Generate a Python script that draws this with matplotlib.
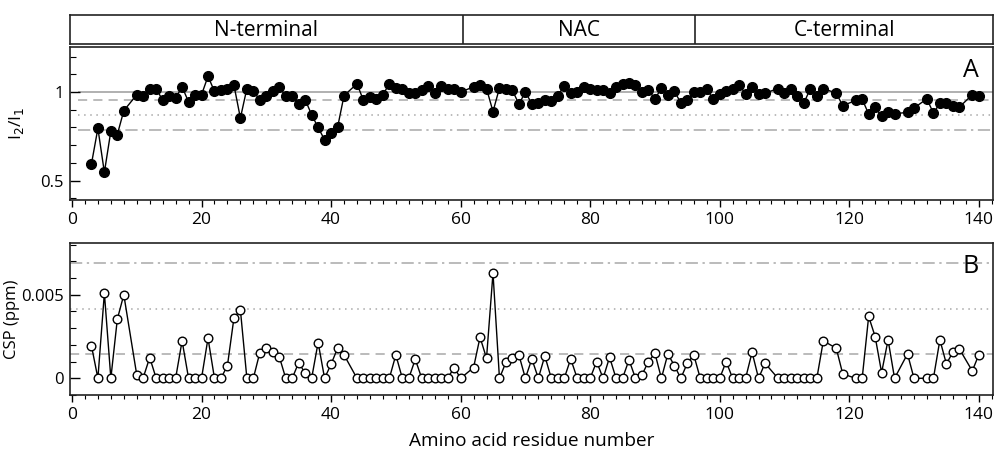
import matplotlib
matplotlib.use('Agg')
import matplotlib.pyplot as plt
from matplotlib.ticker import MultipleLocator

plt.rcParams['font.family'] = ['Open Sans', 'DejaVu Sans']

# residue numbers with data (same set in both panels)
residues = [3, 4, 5, 6, 7, 8,
            10, 11, 12, 13, 14, 15, 16, 17, 18, 19, 20, 21, 22, 23, 24, 25, 26,
            27, 28, 29, 30, 31, 32, 33, 34, 35, 36, 37, 38, 39, 40, 41, 42,
            44, 45, 46, 47, 48, 49, 50, 51, 52, 53, 54, 55, 56, 57, 58, 59, 60,
            62, 63, 64, 65, 66, 67, 68, 69, 70, 71, 72, 73, 74, 75, 76, 77, 78,
            79, 80, 81, 82, 83, 84, 85, 86, 87, 88, 89, 90, 91, 92, 93, 94, 95,
            96, 97, 98, 99, 100, 101, 102, 103, 104, 105, 106, 107,
            109, 110, 111, 112, 113, 114, 115, 116,
            118, 119,
            121, 122, 123, 124, 125, 126, 127,
            129, 130,
            132, 133, 134, 135, 136, 137,
            139, 140]

# panel A: intensity ratio I2/I1
ratio = [0.593, 0.795, 0.546, 0.78, 0.76, 0.895,
         0.985, 0.98, 1.02, 1.02, 0.953, 0.98, 0.966, 1.03, 0.944, 0.985, 0.985, 1.089, 1.004, 1.01, 1.02, 1.04, 0.853,
         1.02, 1.004, 0.957, 0.976, 1.004, 1.03, 0.976, 0.98, 0.934, 0.957, 0.872, 0.80, 0.73, 0.768, 0.80, 0.98,
         1.047, 0.953, 0.97, 0.962, 0.985, 1.047, 1.023, 1.017, 0.994, 0.994, 1.01, 1.036, 0.994, 1.036, 1.017, 1.017, 1.0,
         1.03, 1.04, 1.02, 0.89, 1.023, 1.02, 1.01, 0.932, 1.0, 0.934, 0.94, 0.955, 0.947, 0.98, 1.036, 0.994, 1.0,
         1.028, 1.017, 1.01, 1.013, 0.994, 1.028, 1.045, 1.05, 1.04, 0.998, 1.013, 0.96, 1.023, 0.981, 1.004, 0.94, 0.953,
         1.0, 1.0, 1.017, 0.96, 0.99, 1.004, 1.02, 1.04, 0.99, 1.03, 0.99, 0.994,
         1.02, 0.994, 1.017, 0.98, 0.938, 1.02, 0.98, 1.02,
         0.994, 0.923,
         0.953, 0.96, 0.876, 0.915, 0.862, 0.887, 0.878,
         0.885, 0.91,
         0.962, 0.88, 0.938, 0.938, 0.923, 0.915,
         0.985, 0.98]

# panel B: chemical shift perturbation (ppm)
csp = [0.00196, 0.0, 0.0051, 0.0, 0.00354, 0.005,
       0.0002, 0.00004, 0.00124, 0.0, 0.0, 0.0, 0.0, 0.00224, 0.0, 0.0, 0.0, 0.0024, 0.0, 0.0, 0.00076, 0.0036, 0.0041,
       0.0, 0.0, 0.00154, 0.0018, 0.0016, 0.0013, 0.0, 0.0, 0.00094, 0.0003, 0.0, 0.00214, 0.0, 0.00084, 0.0018, 0.0014,
       0.0, 0.0, 0.0, 0.0, 0.0, 0.0, 0.0014, 0.0, 0.0, 0.00114, 0.0, 0.0, 0.0, 0.0, 0.0, 0.00064, 0.0,
       0.00064, 0.00246, 0.0012, 0.0063, 0.0, 0.00096, 0.0012, 0.0014, 0.0, 0.00116, 0.0, 0.00134, 0.0, 0.0, 0.0, 0.00116, 0.0,
       0.0, 0.0, 0.001, 0.0, 0.00126, 0.0, 0.0, 0.0011, 0.0, 0.0002, 0.001, 0.0015, 0.0, 0.00146, 0.00076, 0.0, 0.0009,
       0.0014, 0.0, 0.0, 0.0, 0.0, 0.001, 0.0, 0.0, 0.0, 0.00156, 0.0, 0.0009,
       0.0, 0.0, 0.0, 0.0, 0.0, 0.0, 0.0, 0.00224,
       0.0018, 0.00026,
       0.0, 0.0, 0.0037, 0.0025, 0.00034, 0.0023, 0.0,
       0.00146, 0.0,
       0.0, 0.0, 0.0023, 0.00086, 0.00156, 0.00176,
       0.00044, 0.0014]

# reference levels
ratio_levels = [1.0, 0.958, 0.87, 0.783]
csp_levels = [0.00148, 0.00416, 0.0069]
level_styles = [('-', '#b0b0b0'), ((0, (6, 4)), '#a8a8a8'), ((0, (1, 3)), '#a8a8a8'), ((0, (8, 3, 1.5, 3)), '#a8a8a8')]

# domains
domains = ['N-terminal', 'NAC', 'C-terminal']
domain_edges = [-0.3, 60.3, 96.2, 142.2]

xmin, xmax = -0.3, 142.2

fig = plt.figure(figsize=(9.95, 4.57), dpi=100)
axh = fig.add_axes([0.0704, 0.9037, 0.9276, 0.0635])
ax1 = fig.add_axes([0.0704, 0.5624, 0.9276, 0.3348])
ax2 = fig.add_axes([0.0704, 0.1357, 0.9276, 0.3326])

# header with domain names
axh.set_xlim(xmin, xmax)
axh.set_ylim(0, 1)
for i, name in enumerate(domains):
    if i > 0:
        axh.axvline(domain_edges[i], color='#222222', lw=1.2)
    axh.text((domain_edges[i] + domain_edges[i + 1]) / 2, 0.48, name,
             ha='center', va='center', fontsize=15)
axh.set_xticks([])
axh.set_yticks([])
for s in axh.spines.values():
    s.set_linewidth(1.2)
    s.set_color('#222222')

# panel A
for lvl, (ls, col) in zip(ratio_levels, level_styles):
    ax1.hlines(lvl, 1, xmax, colors=col, linestyles=ls, lw=1.4 if ls == '-' else 1.1, zorder=1)
ax1.plot(residues, ratio, '-o', color='black', lw=1.0, ms=7.0, mfc='black', mec='black', zorder=3)
ax1.set_ylim(0.39, 1.255)
ax1.set_yticks([0.5, 1])
ax1.set_yticklabels(['0.5', '1'])
ax1.yaxis.set_minor_locator(MultipleLocator(0.1))
ax1.set_ylabel('I$_2$/I$_1$', fontsize=12.5)
ax1.yaxis.set_label_coords(-0.048, 0.5)
ax1.text(0.985, 0.93, 'A', transform=ax1.transAxes, ha='right', va='top', fontsize=18)

# panel B
for lvl, (ls, col) in zip(csp_levels, level_styles[1:]):
    ax2.hlines(lvl, xmin, xmax, colors=col, linestyles=ls, lw=1.1, zorder=1)
ax2.plot(residues, csp, '-o', color='black', lw=1.0, ms=6.2, mfc='white', mec='black', mew=1.0, zorder=3)
ax2.set_ylim(-0.001, 0.0081)
ax2.set_yticks([0, 0.005])
ax2.set_yticklabels(['0', '0.005'])
ax2.yaxis.set_minor_locator(MultipleLocator(0.001))
ax2.set_ylabel('CSP (ppm)', fontsize=12)
ax2.yaxis.set_label_coords(-0.054, 0.5)
ax2.set_xlabel('Amino acid residue number', fontsize=13.7, labelpad=6)
ax2.text(0.985, 0.93, 'B', transform=ax2.transAxes, ha='right', va='top', fontsize=18)

for ax in (ax1, ax2):
    ax.set_xlim(xmin, xmax)
    ax.xaxis.set_major_locator(MultipleLocator(20))
    ax.xaxis.set_minor_locator(MultipleLocator(2))
    ax.tick_params(axis='x', which='major', direction='out', length=5, width=1.0, labelsize=12.5, pad=4)
    ax.tick_params(axis='x', which='minor', direction='out', length=3, width=0.8)
    ax.tick_params(axis='y', which='major', direction='in', length=7, width=1.0, labelsize=12, pad=4.5)
    ax.tick_params(axis='y', which='minor', direction='in', length=4, width=0.8)
    for s in ax.spines.values():
        s.set_linewidth(1.2)
        s.set_color('#222222')

fig.savefig('out.png', dpi=100)
